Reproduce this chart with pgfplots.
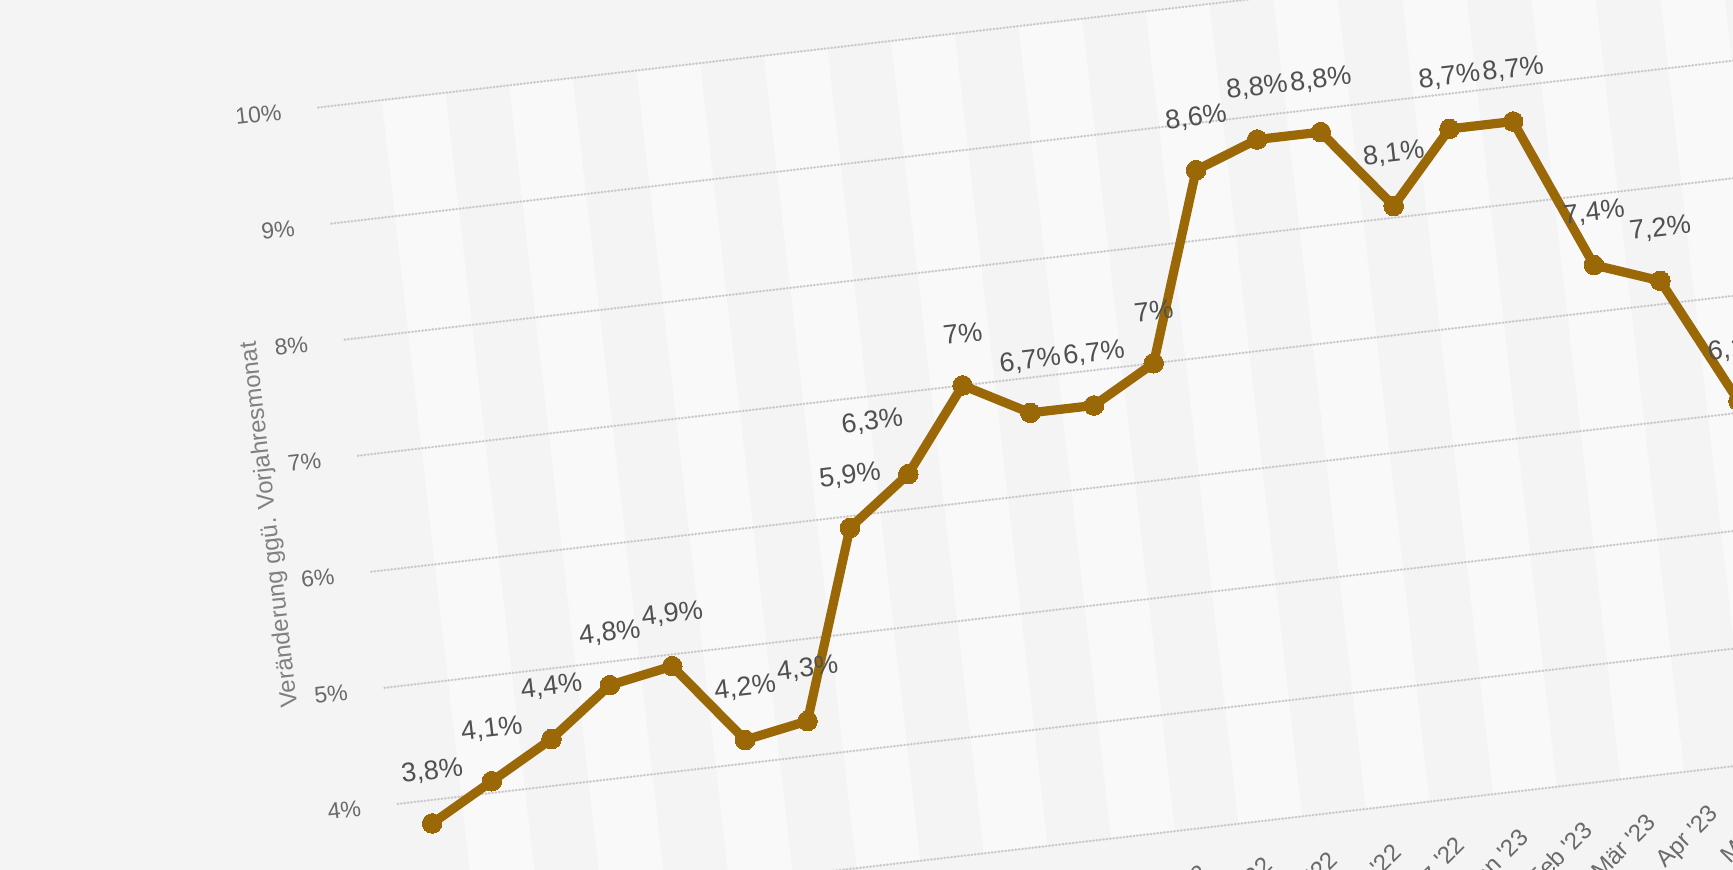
\documentclass[border=0pt]{standalone}
\usepackage{fontspec}
\setmainfont{Liberation Sans}
\usepackage{pgfplots}
\usepackage{pgfplotstable}
\pgfplotsset{compat=1.18}
\definecolor{bgc}{HTML}{F4F4F4}
\definecolor{stripe}{HTML}{F9F9F9}
\definecolor{linec}{RGB}{155,104,8}
\definecolor{gridc}{HTML}{CBCBCB}
\definecolor{ticktext}{HTML}{6A6A6A}
\definecolor{labtext}{HTML}{505050}
\newcommand{\q}{\textquotesingle}

\pgfplotstableread{
x y dx
0 3.8 0
1 4.1 0
2 4.4 0
3 4.8 0
4 4.9 0
5 4.2 0
6 4.3 0
7 5.9 0
8 6.3 -18
9 7.0 0
10 6.7 0
11 6.7 0
12 7.0 0
13 8.6 0
14 8.8 0
15 8.8 0
16 8.1 0
17 8.7 0
18 8.7 0
19 7.4 0
20 7.2 0
21 6.1 0
}\inflation

\begin{document}
\begin{tikzpicture}
\begin{axis}[
  set layers,
  x={(31.83pt,3.70pt)}, y={(-6.63pt,58.03pt)},
  xmin=-0.5, xmax=22, ymin=3, ymax=10,
  clip=false,
  axis line style={draw=none},
  major tick length=0pt,
  tick style={draw=none},
  ymajorgrids,
  grid style={gridc, line width=1.2pt, line cap=round, dash pattern=on 0.3pt off 1.4pt},
  ytick={3,4,...,10},
  yticklabel={\pgfmathprintnumber{\tick}\%},
  yticklabel style={anchor=east, rotate=6.6, xshift=-15pt,
    font=\fontsize{11.5}{13}\selectfont, text=ticktext},
  xtick={0,1,...,21},
  xticklabels={Aug \q21, Sep \q21, Okt \q21, Nov \q21, Dez \q21, Jan \q22, Feb \q22, Mär \q22, Apr \q22, Mai \q22, Jun \q22, Jul \q22, Aug \q22, Sep \q22, Okt \q22, Nov \q22, Dez \q22, Jan \q23, Feb \q23, Mär \q23, Apr \q23, Mai \q23},
  xticklabel style={anchor=east, yshift=-19pt, xshift=2pt, rotate=45,
    font=\fontsize{12}{14}\selectfont, text=ticktext},
  /pgf/number format/assume math mode=true,
]
% page background
\addplot[draw=none, fill=bgc, mark=none, forget plot, on layer=axis background]
  coordinates {(-10,0) (26,0) (26,14) (-10,14)};
% alternating column stripes
\addplot[draw=none, fill=stripe, mark=none, forget plot, on layer=axis background] coordinates {(0.5,3) (1.5,3) (1.5,10) (0.5,10)};
\addplot[draw=none, fill=stripe, mark=none, forget plot, on layer=axis background] coordinates {(2.5,3) (3.5,3) (3.5,10) (2.5,10)};
\addplot[draw=none, fill=stripe, mark=none, forget plot, on layer=axis background] coordinates {(4.5,3) (5.5,3) (5.5,10) (4.5,10)};
\addplot[draw=none, fill=stripe, mark=none, forget plot, on layer=axis background] coordinates {(6.5,3) (7.5,3) (7.5,10) (6.5,10)};
\addplot[draw=none, fill=stripe, mark=none, forget plot, on layer=axis background] coordinates {(8.5,3) (9.5,3) (9.5,10) (8.5,10)};
\addplot[draw=none, fill=stripe, mark=none, forget plot, on layer=axis background] coordinates {(10.5,3) (11.5,3) (11.5,10) (10.5,10)};
\addplot[draw=none, fill=stripe, mark=none, forget plot, on layer=axis background] coordinates {(12.5,3) (13.5,3) (13.5,10) (12.5,10)};
\addplot[draw=none, fill=stripe, mark=none, forget plot, on layer=axis background] coordinates {(14.5,3) (15.5,3) (15.5,10) (14.5,10)};
\addplot[draw=none, fill=stripe, mark=none, forget plot, on layer=axis background] coordinates {(16.5,3) (17.5,3) (17.5,10) (16.5,10)};
\addplot[draw=none, fill=stripe, mark=none, forget plot, on layer=axis background] coordinates {(18.5,3) (19.5,3) (19.5,10) (18.5,10)};
\addplot[draw=none, fill=stripe, mark=none, forget plot, on layer=axis background] coordinates {(20.5,3) (21.5,3) (21.5,10) (20.5,10)};
% data
\addplot[linec, line width=4.6pt, line join=round, line cap=round,
  mark=*, mark size=4.9pt, mark options={fill=linec, draw=linec, line width=0pt},
  visualization depends on={\thisrow{dx} \as \dx},
  nodes near coords={\pgfmathprintnumber[fixed,precision=1,use comma]{\pgfplotspointmeta}\%},
  every node near coord/.append style={anchor=center, xshift=\dx pt, yshift=26pt, rotate=6.6,
     font=\fontsize{13.5}{15}\selectfont, text=labtext},
] table[x=x, y=y] {\inflation};
\node[rotate=96.5, font=\fontsize{12}{14}\selectfont, text=ticktext!85!white] at (axis cs:-1.98,6.5) {Veränderung ggü. Vorjahresmonat};
\coordinate (O4) at (axis cs:0,4);
\end{axis}
\pgfresetboundingbox
\path[use as bounding box] ([shift={(-214.75pt,-34.4pt)}]O4) rectangle ++(866.5pt,434.5pt);
\end{tikzpicture}
\end{document}
